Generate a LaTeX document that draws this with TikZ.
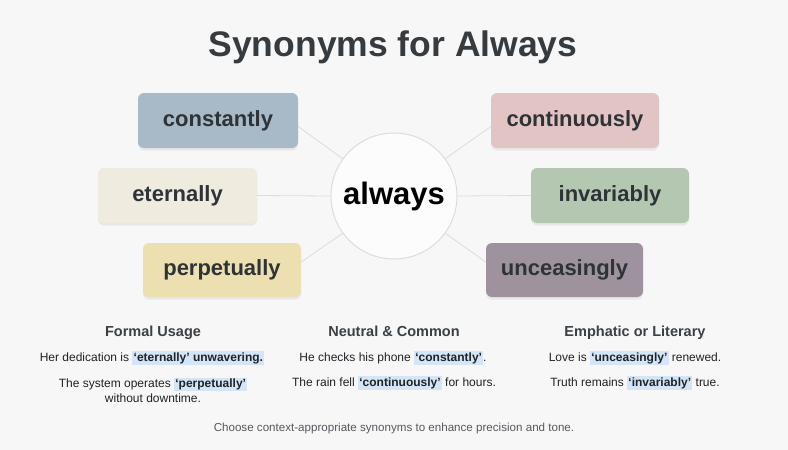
\documentclass[tikz,border=0pt]{standalone}
\usepackage{fontspec}
\setmainfont{Liberation Sans}
\usetikzlibrary{shadows}
\definecolor{bg}{HTML}{F7F7F7}
\definecolor{titlec}{HTML}{363B40}
\definecolor{wordc}{HTML}{2E3338}
\definecolor{headc}{HTML}{3A4046}
\definecolor{sentc}{HTML}{1F2226}
\definecolor{footc}{HTML}{55595E}
\definecolor{linec}{HTML}{DCDCDC}
\definecolor{cconst}{HTML}{A8B9C7}
\definecolor{cetern}{HTML}{EFEBDF}
\definecolor{cperp}{HTML}{ECDFB0}
\definecolor{ccont}{HTML}{E3C4C4}
\definecolor{cinv}{HTML}{B4C8B1}
\definecolor{cunc}{HTML}{9E929F}
\definecolor{hlc}{HTML}{D3E5F6}
\newcommand{\hlw}[1]{{\setlength{\fboxsep}{1.2pt}\colorbox{hlc}{\textbf{#1}}}}
\tikzset{
  wordbox/.style={rectangle, rounded corners=6pt, minimum height=55pt, text=wordc,
    font=\fontsize{22}{26}\selectfont\bfseries,
    drop shadow={opacity=0.12, shadow xshift=0pt, shadow yshift=-2.5pt}},
  conn/.style={draw=linec, line width=0.8pt},
  head/.style={text=headc, font=\fontsize{14.5}{17}\selectfont\bfseries, text height=10.5pt, text depth=3pt},
  sent/.style={text=sentc, font=\fontsize{12}{14.5}\selectfont, align=center},
}
\begin{document}
\begin{tikzpicture}[x=1pt,y=-1pt]
\path[fill=bg] (0,0) rectangle (788,450);
\node[text=titlec, font=\fontsize{35.5}{42}\selectfont\bfseries] (title) at (393,47) {Synonyms for Always};

\node[circle, draw=linec, line width=1pt, fill=white!60!bg, minimum size=126pt,
  font=\fontsize{31}{36}\selectfont\bfseries, text=black] (c) at (394,196) {always};

\node[wordbox, fill=cconst, minimum width=160pt] (constantly) at (218,120.5) {constantly};
\node[wordbox, fill=cetern, minimum width=159pt] (eternally) at (177.5,195.5) {eternally};
\node[wordbox, fill=cperp, minimum width=158pt, minimum height=54pt] (perpetually) at (222,270) {perpetually};
\node[wordbox, fill=ccont, minimum width=168pt] (continuously) at (575,120.5) {continuously};
\node[wordbox, fill=cinv, minimum width=158pt] (invariably) at (610,195.5) {invariably};
\node[wordbox, fill=cunc, minimum width=157pt, minimum height=54pt] (unceasingly) at (564.5,270) {unceasingly};

\draw[conn] ([yshift=-6pt]constantly.east) -- (c.144);
\draw[conn] (eternally.east) -- (c.180);
\draw[conn] ([yshift=8pt]perpetually.east) -- (c.216);
\draw[conn] ([yshift=-6pt]continuously.west) -- (c.36);
\draw[conn] (invariably.west) -- (c.0);
\draw[conn] ([yshift=8pt]unceasingly.west) -- (c.324);

\node[head] (h1) at (153,333) {Formal Usage};
\node[sent] (s11) at (152,358) {Her dedication is \hlw{‘eternally’ unwavering.}};
\node[sent] (s12) at (153,390) {The system operates \hlw{‘perpetually’}\\without downtime.};

\node[head] (h2) at (394,333) {Neutral \& Common};
\node[sent] (s21) at (393,358) {He checks his phone \hlw{‘constantly’}.};
\node[sent] (s22) at (394,383) {The rain fell \hlw{‘continuously’} for hours.};

\node[head] (h3) at (635,333) {Emphatic or Literary};
\node[sent] (s31) at (635,358) {Love is \hlw{‘unceasingly’} renewed.};
\node[sent] (s32) at (635,383) {Truth remains \hlw{‘invariably’} true.};

\node[text=footc, font=\fontsize{11.6}{14}\selectfont] (foot) at (394,428) {Choose context-appropriate synonyms to enhance precision and tone.};
\end{tikzpicture}
\end{document}
